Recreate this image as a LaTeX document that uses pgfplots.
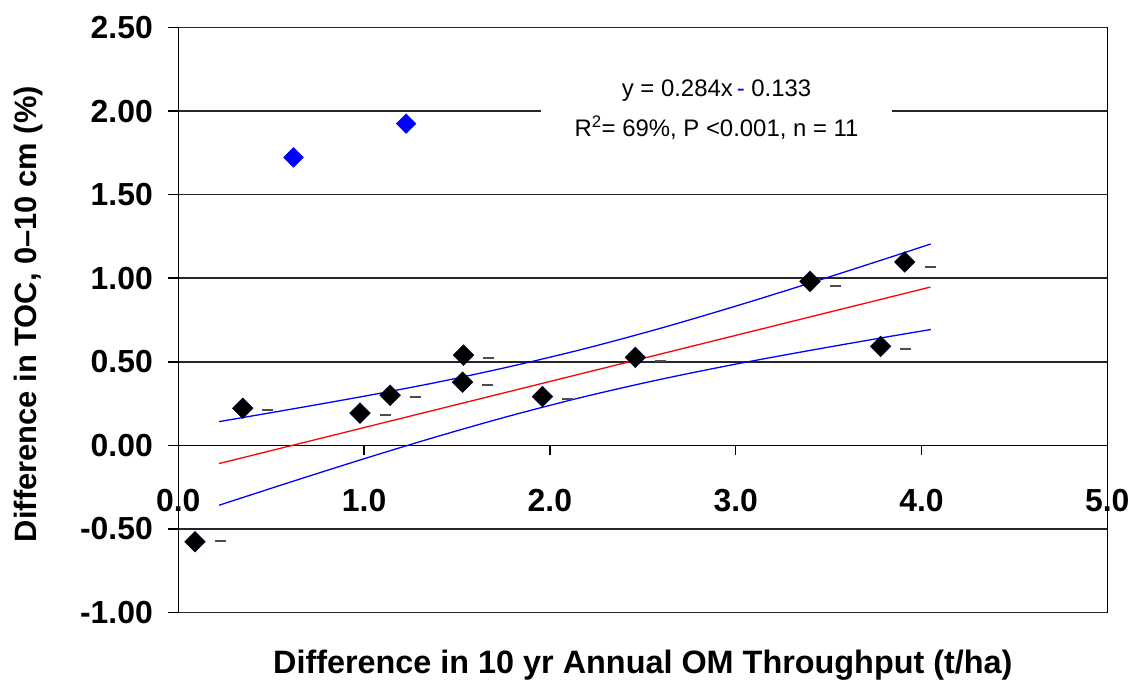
\documentclass[border=0pt]{standalone}
\usepackage{fontspec}
\setmainfont{Liberation Sans}
\usepackage{pgfplots}
\pgfplotsset{compat=1.18}
\begin{document}
\begin{tikzpicture}
\useasboundingbox (0,0) rectangle (1130bp,682bp);
\begin{axis}[
  at={(178.3bp,69.5bp)}, anchor=south west,
  width=929bp, height=585bp, scale only axis,
  xmin=0, xmax=5, ymin=-1, ymax=2.5,
  axis x line=middle, axis y line=left,
  axis line style={-, line width=1.5bp, black},
  every inner x axis line/.append style={-},
  every outer y axis line/.append style={-},
  xtick={0,1,2,3,4,5}, ytick={-1,-0.5,0,0.5,1,1.5,2,2.5},
  hide obscured x ticks=false, hide obscured y ticks=false,
  ymajorgrids, major grid style={line width=1.5bp, black!85},
  tick align=outside, major tick length=10bp,
  tick style={line width=1.5bp, black},
  /pgf/number format/assume math mode=true,
  xticklabel={\pgfmathprintnumber[fixed, fixed zerofill, precision=1]{\tick}},
  yticklabel={\pgfmathprintnumber[fixed, fixed zerofill, precision=2]{\tick}},
  ticklabel style={font=\bfseries\fontsize{32}{32}\selectfont},
  xticklabel style={anchor=center, yshift=-45bp},
  yticklabel style={anchor=east, xshift=-12bp},
  xlabel={Difference in 10 yr Annual OM Throughput (t/ha)},
  ylabel={Difference in TOC, 0--10 cm (\%)},
  every axis x label/.style={at={(axis description cs:0.5,-0.0897)}, anchor=center, font=\bfseries\fontsize{32.5}{39}\selectfont},
  every axis y label/.style={at={(axis description cs:-0.1607,0.51)}, anchor=center, rotate=90, font=\bfseries\fontsize{31}{39}\selectfont},
  clip=false,
]
% black data points
\addplot[only marks, mark=square*, mark size=7.3bp, mark options={rotate=45, fill=black, draw=black!80!blue, line width=0.5bp}] coordinates {
(0.09,-0.577) (0.347,0.222) (0.978,0.193) (1.14,0.30) (1.53,0.378) (1.535,0.54)
(1.96,0.292) (2.46,0.526) (3.40,0.981) (3.78,0.592) (3.91,1.097)
};
% blue outliers
\addplot[only marks, mark=square*, mark size=7.0bp, mark options={rotate=45, fill=blue, draw=blue}] coordinates {
(0.62,1.723) (1.226,1.925)
};
% small dashes
\addplot[only marks, mark=-, mark size=5.5bp, mark options={line width=2bp, draw=black!70}] coordinates {
(0.226,-0.572) (0.478,0.212) (1.113,0.184) (1.278,0.289) (1.666,0.362) (1.672,0.524)
(2.097,0.277) (2.596,0.506) (3.536,0.953) (3.915,0.574) (4.047,1.069)
};
% regression line
\addplot[red, line width=1.3bp] coordinates {(0.219,-0.109) (4.048,0.947)};
% confidence bands
\addplot[blue, line width=1.3bp, smooth] coordinates {
(0.22,0.142) (0.6,0.215) (1.0,0.294) (1.4,0.379) (1.8,0.475) (2.2,0.582)
(2.6,0.702) (3.0,0.833) (3.4,0.971) (3.8,1.114) (4.05,1.205)
};
\addplot[blue, line width=1.3bp, smooth] coordinates {
(0.22,-0.358) (0.6,-0.221) (1.0,-0.080) (1.4,0.055) (1.8,0.181) (2.2,0.295)
(2.6,0.396) (3.0,0.486) (3.4,0.568) (3.8,0.646) (4.05,0.693)
};
\draw[line width=1.5bp, black] (axis cs:5,-1) -- (axis cs:5,2.5);
\node[fill=white, inner sep=0pt, minimum width=351bp, minimum height=80bp, align=center,
  font=\fontsize{24}{40}\selectfont] at (axis cs:2.897,2.009)
  {y = 0.284x\,{\color{blue}-} 0.133\\R\textsuperscript{2}= 69\%, P <0.001, n = 11};
\end{axis}
\end{tikzpicture}
\end{document}
